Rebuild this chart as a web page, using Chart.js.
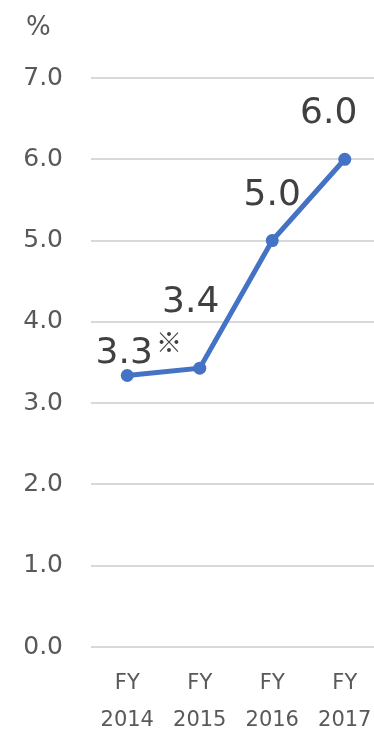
<!DOCTYPE html>
<html>
<head>
<meta charset="utf-8">
<script src="https://cdn.jsdelivr.net/npm/chart.js@4/dist/chart.umd.min.js"></script>
<style>
  html, body { margin: 0; padding: 0; background: #fff; overflow: hidden; }
  #chart { display: block; }
</style>
</head>
<body>
<canvas id="chart" width="374" height="731"></canvas>
<script>
// ---- data ----
const years = ['2014', '2015', '2016', '2017'];
const ratio = [3.34, 3.43, 5.0, 6.0];          // %
const notes = ['※', '', '', ''];
const yTicks = [0, 1, 2, 3, 4, 5, 6, 7];
const unitLabel = '%';

// where each value label sits relative to its point (dx, baseline dy)
const labelOffsets = [[-3, -13], [-9, -56], [0, -36], [-16, -36]];

const FONT = '"DejaVu Sans", Verdana, sans-serif';
const PLOT_LEFT = 91, PLOT_OVERHANG = 7;   // plot runs a bit past the right edge

// stretch the plot area past the canvas edge, like the original crop
const widenPlot = {
  id: 'widenPlot',
  afterLayout(chart) {
    const x = chart.scales.x;
    const area = chart.chartArea;
    area.left = PLOT_LEFT;
    area.right = chart.width + PLOT_OVERHANG;
    area.width = area.right - area.left;
    x.left = area.left;
    x.right = area.right;
    x.width = area.width;
    x.configure();
  }
};

const valueLabels = {
  id: 'valueLabels',
  afterDatasetsDraw(chart) {
    const ctx = chart.ctx;
    const pts = chart.getDatasetMeta(0).data;
    ctx.save();
    ctx.fillStyle = '#404040';
    ctx.textBaseline = 'alphabetic';
    pts.forEach((p, i) => {
      const txt = ratio[i].toFixed(1);
      ctx.font = '36px ' + FONT;
      const w = ctx.measureText(txt).width;
      const cx = p.x + labelOffsets[i][0];
      const by = p.y + labelOffsets[i][1];
      ctx.textAlign = 'left';
      ctx.fillText(txt, cx - w / 2, by);
      if (notes[i]) {
        ctx.font = '26px "Noto Sans CJK JP", sans-serif';
        ctx.fillText(notes[i], cx + w / 2 + 3, by - 11);
      }
    });
    // unit
    ctx.font = '26px ' + FONT;
    ctx.fillStyle = '#595959';
    ctx.fillText(unitLabel, 26, 35);
    ctx.restore();
  }
};

new Chart(document.getElementById('chart'), {
  type: 'line',
  data: {
    labels: years.map(y => ['FY', y]),
    datasets: [{
      data: ratio,
      borderColor: '#4472C4',
      backgroundColor: '#4472C4',
      borderWidth: 5,
      pointRadius: 6.5,
      pointBackgroundColor: '#4472C4',
      pointBorderWidth: 0,
      tension: 0,
      clip: false
    }]
  },
  options: {
    responsive: false,
    animation: false,
    events: [],
    layout: { padding: { top: 78, right: 0, left: 0, bottom: 0 } },
    plugins: { legend: { display: false }, tooltip: { enabled: false } },
    scales: {
      x: {
        offset: true,
        grid: { display: false, drawTicks: false },
        border: { display: false },
        ticks: {
          color: '#595959',
          font: { family: FONT, size: 21, lineHeight: 1.76 },
          padding: 18,
          maxRotation: 0,
          autoSkip: false
        },
        afterFit(s) { s.height = 84; s.paddingLeft = 0; s.paddingRight = 0; }
      },
      y: {
        min: 0,
        max: 7,
        afterBuildTicks(s) { s.ticks = yTicks.map(v => ({ value: v })); },
        grid: { color: '#d9d9d9', lineWidth: 2, drawTicks: false },
        border: { display: false },
        ticks: {
          color: '#595959',
          font: { family: FONT, size: 25 },
          padding: 28,
          callback: v => Number(v).toFixed(1)
        },
        afterFit(s) { s.width = PLOT_LEFT; }
      }
    }
  },
  plugins: [widenPlot, valueLabels]
});
</script>
</body>
</html>
